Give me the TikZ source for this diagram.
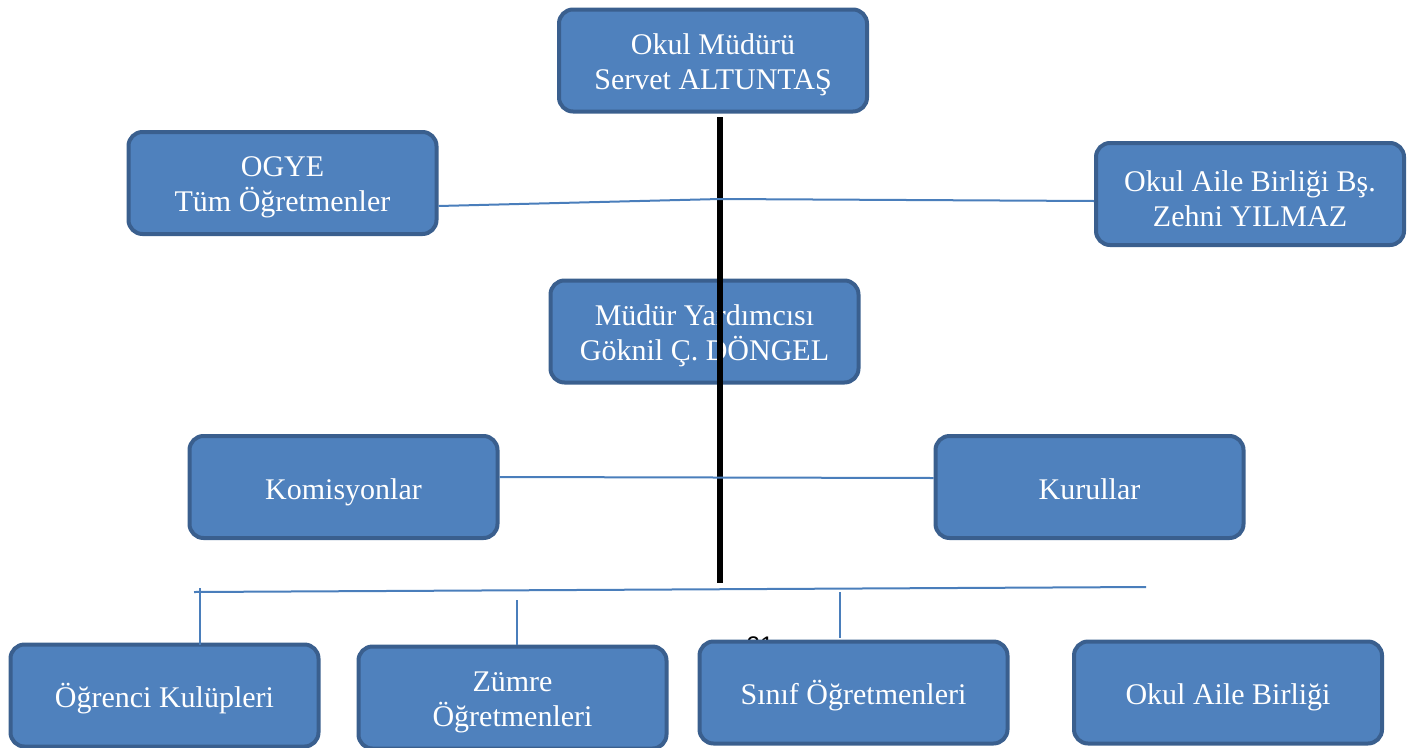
\documentclass[tikz,border=0pt]{standalone}
\usepackage{fontspec}
\setmainfont{Liberation Serif}
\newfontfamily\numfont{Liberation Sans}
\definecolor{boxfill}{HTML}{4F81BD}
\definecolor{boxline}{HTML}{3A5F8E}
\definecolor{linkblue}{HTML}{4A7EBB}
\tikzset{
  orgbox/.style={draw=boxline, fill=boxfill, line width=4pt, rounded corners=14pt,
    minimum width=308pt, minimum height=102pt, align=center, text=white,
    font=\fontsize{30}{34}\selectfont, inner sep=0pt,
    execute at begin node={\rule{0pt}{31pt}},
    execute at end node={\rule[-7pt]{0pt}{7pt}}},
  orgtext/.style={align=center, text=white, font=\fontsize{30}{34.5}\selectfont, inner sep=0pt},
  thinlink/.style={draw=linkblue, line width=2pt},
  spine/.style={draw=black, line width=6pt}
}
\begin{document}
\begin{tikzpicture}[x=1pt,y=-1pt]
\useasboundingbox (0,0) rectangle (1415,747);
% hidden page number behind a box
\node[font=\numfont\fontsize{24}{28}\selectfont, text=black] (pg) at (760,645) {21};

\node[orgbox] (top) at (713,60.5) {};
\node[orgtext] (top-t) at ([yshift=-4.5pt]top.center) {Okul Müdürü\\Servet ALTUNTAŞ};
\node[orgbox] (ogye) at (282.5,183) {};
\node[orgtext] (ogye-t) at ([yshift=-4.5pt]ogye.center) {OGYE\\Tüm Öğretmenler};
\node[orgbox] (oab) at (1250,194) {};
\node[orgtext] (oab-t) at ([yshift=-4.5pt]oab.center) {Okul Aile Birliği Bş.\\Zehni YILMAZ};
\node[orgbox] (my) at (704.5,331.5) {};
\node[orgtext] (my-t) at ([yshift=-4.5pt]my.center) {Müdür Yardımcısı\\Göknil Ç. DÖNGEL};
\node[orgbox] (kom) at (343.5,487) {Komisyonlar};
\node[orgbox] (kur) at (1089.5,487) {Kurullar};
\node[orgbox] (ok) at (164.5,695.5) {Öğrenci Kulüpleri};
\node[orgbox] (zum) at (512.5,697.5) {};
\node[orgtext] (zum-t) at ([yshift=-5pt]zum.center) {Zümre\\Öğretmenleri};
\node[orgbox] (sin) at (853.5,692.5) {Sınıf Öğretmenleri};
\node[orgbox] (oab2) at (1228,692.5) {Okul Aile Birliği};

% main spine
\coordinate (s1) at (720,117);
\coordinate (s2) at (720,583);
\draw[spine] (s1) -- (s2);

% connectors
\coordinate (c1) at (720,199);
\draw[thinlink] ([yshift=-23pt]ogye.east) -- (c1) -- ([yshift=-7pt]oab.west);
\draw[thinlink] ([yshift=10pt]kom.east) -- ([yshift=9pt]kur.west);

\coordinate (h1) at (194,592);
\coordinate (h2) at (1146,587);
\draw[thinlink] (h1) -- (h2);
\coordinate (t1) at (200,588);
\coordinate (t1b) at (200,645);
\coordinate (t2) at (517,600);
\coordinate (t2b) at (517,645);
\coordinate (t3) at (840,592);
\coordinate (t3b) at (840,638);
\draw[thinlink] (t1) -- (t1b);
\draw[thinlink] (t2) -- (t2b);
\draw[thinlink] (t3) -- (t3b);
\end{tikzpicture}
\end{document}
